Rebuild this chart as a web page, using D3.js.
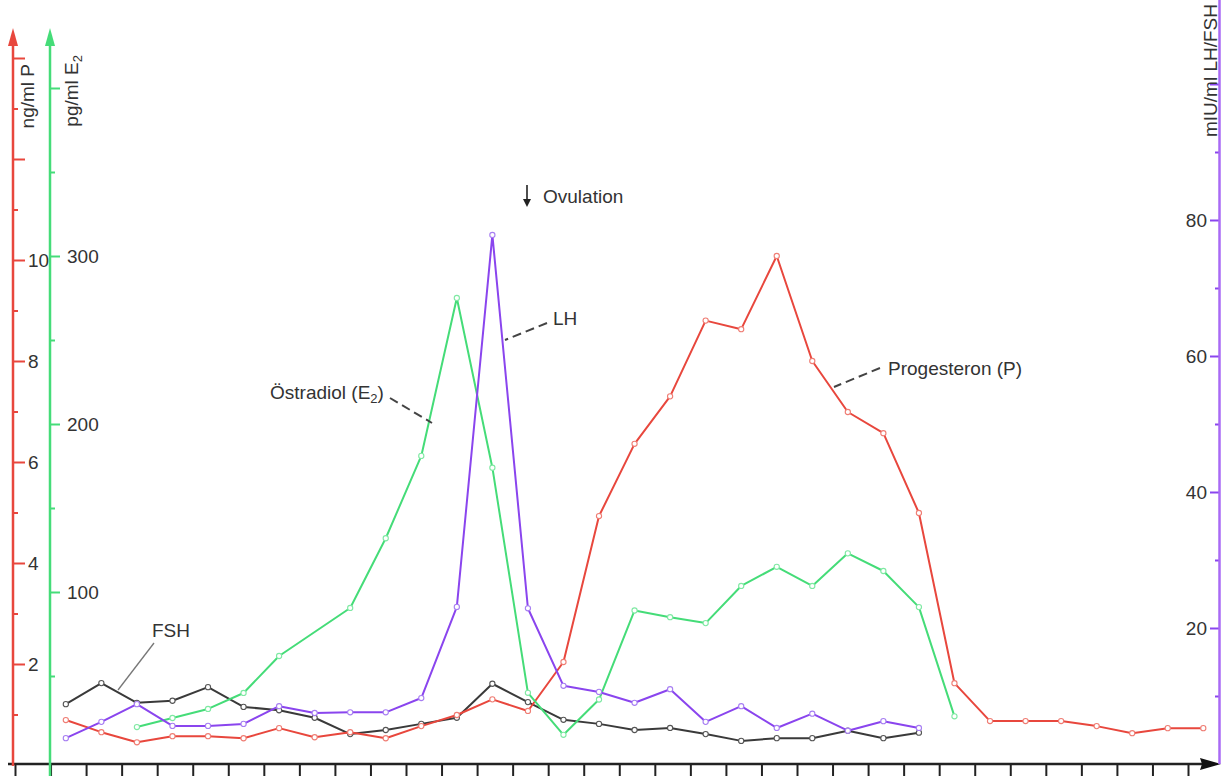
<!DOCTYPE html>
<html>
<head>
<meta charset="utf-8">
<script src="https://cdn.jsdelivr.net/npm/d3@7"></script>
<style>
body { margin: 0; background: #fff; }
svg { display: block; font-family: "Liberation Sans", Arial, sans-serif; }
</style>
</head>
<body>
<svg></svg>
<script>
// values, one per day (null = no sample)
const progesteron = [0.89, 0.65, 0.45, 0.57, 0.57, 0.53, 0.73, 0.55, 0.65, 0.53, 0.77, 0.99, 1.3, 1.07, 2.04, 4.93, 6.36, 7.3, 8.8, 8.63, 10.08, 8.0, 6.99, 6.57, 4.99, 1.62, 0.87, 0.87, 0.87, 0.77, 0.63, 0.73, 0.73];
const oestradiol = [null, null, 19.6, 25, 30.4, 39.9, 61.9, null, 90.5, 132, 181, 275, 174, 40, 15, 36, 89, 85, 81.5, 103.6, 115, 103.6, 123, 112.5, 91, 26];
const lh = [3.8, 6.2, 8.8, 5.6, 5.6, 5.9, 8.5, 7.5, 7.6, 7.6, 9.7, 23.1, 77.8, 22.9, 11.5, 10.6, 9.0, 11.0, 6.2, 8.5, 5.3, 7.4, 4.9, 6.3, 5.3];
const fsh = [8.8, 11.9, 9.0, 9.3, 11.3, 8.4, 7.9, 6.8, 4.4, 5.0, 5.9, 6.8, 11.8, 9.1, 6.5, 5.9, 5.0, 5.3, 4.4, 3.4, 3.8, 3.8, 4.9, 3.8, 4.6];

const dayTicks = d3.range(0, 34);
const pMajor = [2, 4, 6, 8, 10, 12, 14], pLabels = [2, 4, 6, 8, 10], pMinor = [1, 3, 5, 7, 9, 11, 13];
const eMajor = [100, 200, 300, 400], eLabels = [100, 200, 300], eMinor = [50, 150, 250, 350];
const lMajor = [20, 40, 60, 80, 100], lLabels = [20, 40, 60, 80], lMinor = [10, 30, 50, 70, 90];

const width = 1221, height = 779;
const base = 764;

const red = "#e8473d", green = "#45dc78", purple = "#8a45ee", dark = "#3a3a3a";

const x = d3.scaleLinear().domain([0, 33]).range([15, 1188]);
const xPoint = i => x(i + 1.43);

const yP = d3.scaleLinear().domain([0, 14]).range([765, 58]);
const yE = d3.scaleLinear().domain([0, 400]).range([760, 88]);
const yL = d3.scaleLinear().domain([0, 100]).range([764, 84]);

const svg = d3.select("svg").attr("width", width).attr("height", height);

const styleAxis = (g, color) => {
	g.select(".domain").remove();
	g.selectAll(".tick line").attr("stroke", color).attr("stroke-width", 2);
	g.selectAll(".tick text").attr("fill", "#333").style("font-size", "19px").style("font-family", "Liberation Sans, Arial, sans-serif");
};

// x axis
svg.append("g")
	.attr("transform", `translate(0, ${base})`)
	.call(d3.axisBottom(x).tickValues(dayTicks).tickSize(12).tickFormat(""))
	.call(g => styleAxis(g, "#222"));
svg.append("line").attr("x1", 8).attr("x2", 1206).attr("y1", base).attr("y2", base)
	.attr("stroke", "#222").attr("stroke-width", 2.5);
svg.append("path").attr("d", `M1221,${base} L1200,${base - 6} L1202,${base} L1200,${base + 6} Z`).attr("fill", "#111");

// vertical axis with arrow on top
const vAxis = (xPos, yBottom, color, arrow) => {
	svg.append("line").attr("x1", xPos).attr("x2", xPos).attr("y1", yBottom).attr("y2", arrow ? 40 : 0)
		.attr("stroke", color).attr("stroke-width", 2.5);
	if (arrow) {
		svg.append("path").attr("d", `M${xPos},28 L${xPos - 5},46 L${xPos + 5},46 Z`).attr("fill", color);
	}
};

// progesterone axis (left, red)
svg.append("g").attr("transform", "translate(13,0)")
	.call(d3.axisRight(yP).tickValues(pMajor).tickSize(12).tickPadding(3)
		.tickFormat(d => pLabels.includes(d) ? d : ""))
	.call(g => styleAxis(g, red));
svg.append("g").attr("transform", "translate(13,0)")
	.call(d3.axisRight(yP).tickValues(pMinor).tickSize(5).tickFormat(""))
	.call(g => styleAxis(g, red));
vAxis(13, 766, red, true);

// oestradiol axis (left, green)
svg.append("g").attr("transform", "translate(50,0)")
	.call(d3.axisRight(yE).tickValues(eMajor).tickSize(10).tickPadding(7)
		.tickFormat(d => eLabels.includes(d) ? d : ""))
	.call(g => styleAxis(g, green));
svg.append("g").attr("transform", "translate(50,0)")
	.call(d3.axisRight(yE).tickValues(eMinor).tickSize(5).tickFormat(""))
	.call(g => styleAxis(g, green));
vAxis(50, 776, green, true);

// LH/FSH axis (right, purple)
svg.append("g").attr("transform", "translate(1219,0)")
	.call(d3.axisLeft(yL).tickValues(lMajor).tickSize(9).tickPadding(3)
		.tickFormat(d => lLabels.includes(d) ? d : ""))
	.call(g => styleAxis(g, purple));
svg.append("g").attr("transform", "translate(1219,0)")
	.call(d3.axisLeft(yL).tickValues(lMinor).tickSize(4).tickFormat(""))
	.call(g => styleAxis(g, purple));
vAxis(1219.5, base, "#a96af5", false);

// axis titles
const vTitle = (xPos, yTop, parts) => {
	const t = svg.append("text")
		.attr("transform", `translate(${xPos},${yTop}) rotate(-90)`)
		.attr("text-anchor", "end")
		.attr("fill", "#333")
		.style("font-size", "19px");
	parts.forEach(p => {
		const s = t.append("tspan").text(p.text);
		if (p.sub) s.style("font-size", "13px").attr("dy", 4);
	});
};
vTitle(34, 64, [{text: "ng/ml P"}]);
vTitle(78, 55, [{text: "pg/ml E"}, {text: "2", sub: true}]);
vTitle(1217, 4, [{text: "mIU/ml LH/FSH"}]);

// series
const series = [
	{values: fsh, y: yL, color: dark, marker: "#555"},
	{values: progesteron, y: yP, color: red, marker: "#ef7d74"},
	{values: oestradiol, y: yE, color: green, marker: "#7fe9a3"},
	{values: lh, y: yL, color: purple, marker: "#a77ef2"}
];

series.forEach(s => {
	const pts = s.values.map((v, i) => ({i, v})).filter(d => d.v !== null);
	svg.append("path")
		.datum(pts)
		.attr("fill", "none")
		.attr("stroke", s.color)
		.attr("stroke-width", 2)
		.attr("stroke-linejoin", "round")
		.attr("d", d3.line().x(d => xPoint(d.i)).y(d => s.y(d.v)));
	svg.append("g").selectAll("circle")
		.data(pts)
		.join("circle")
		.attr("cx", d => xPoint(d.i))
		.attr("cy", d => s.y(d.v))
		.attr("r", 2.6)
		.attr("fill", "#fff")
		.attr("stroke", s.marker)
		.attr("stroke-width", 1.1);
});

// annotations
const label = (xPos, yPos, parts) => {
	const t = svg.append("text").attr("x", xPos).attr("y", yPos).attr("fill", "#333").style("font-size", "19px");
	parts.forEach(p => {
		const s = t.append("tspan").text(p.text);
		if (p.sub) s.style("font-size", "13px").attr("dy", 4);
		if (p.after) s.attr("dy", -4);
	});
};
const leader = (x1, y1, x2, y2, dashed) => {
	svg.append("line").attr("x1", x1).attr("y1", y1).attr("x2", x2).attr("y2", y2)
		.attr("stroke", dashed ? "#444" : "#777")
		.attr("stroke-width", dashed ? 2 : 1.3)
		.attr("stroke-dasharray", dashed ? "9,5" : null);
};

label(152, 637, [{text: "FSH"}]);
leader(154, 643, 118, 690, false);

label(270, 399, [{text: "Östradiol (E"}, {text: "2", sub: true}, {text: ")", after: true}]);
leader(390, 398, 432, 423, true);

label(553, 325, [{text: "LH"}]);
leader(547, 323, 505, 340, true);

label(888, 375, [{text: "Progesteron (P)"}]);
leader(880, 368, 834, 387, true);

label(543, 203, [{text: "Ovulation"}]);
svg.append("line").attr("x1", 527).attr("x2", 527).attr("y1", 185).attr("y2", 203)
	.attr("stroke", "#222").attr("stroke-width", 1.6);
svg.append("path").attr("d", "M527,207 L523,199 L531,199 Z").attr("fill", "#222");
</script>
</body>
</html>
